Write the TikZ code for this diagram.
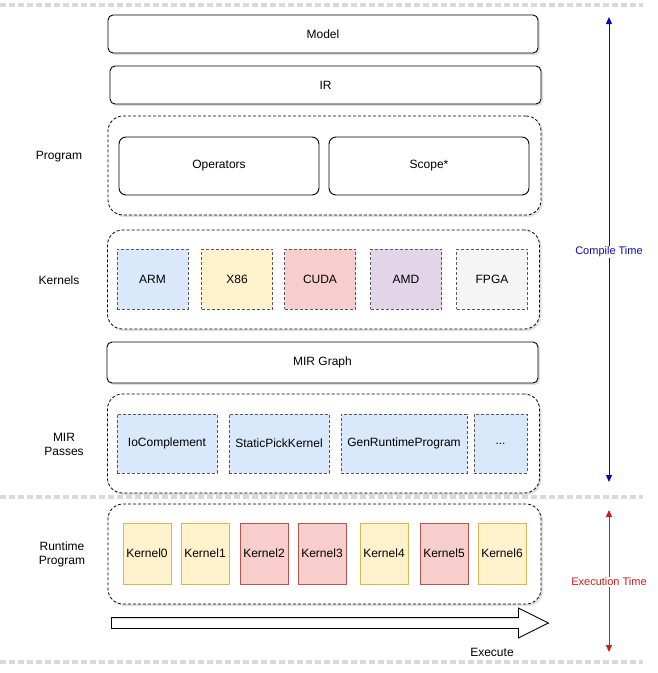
\documentclass[tikz,border=0pt]{standalone}
\usepackage{fontspec}
\setmainfont{Liberation Sans}
\usetikzlibrary{arrows.meta,shapes.arrows,shadows}

\definecolor{armblue}{HTML}{DAE8FC}
\definecolor{x86yellow}{HTML}{FFF2CC}
\definecolor{cudared}{HTML}{F8CECC}
\definecolor{amdpurple}{HTML}{E1D5E7}
\definecolor{fpgagray}{HTML}{F5F5F5}
\definecolor{yellowline}{HTML}{D6B656}
\definecolor{redline}{HTML}{B85450}
\definecolor{compileblue}{RGB}{10,10,180}
\definecolor{execred}{RGB}{200,30,30}

\begin{document}
\begin{tikzpicture}[
  x=1pt, y=-1pt,
  font=\fontsize{12}{14}\selectfont,
  soft/.style={drop shadow={shadow xshift=2pt, shadow yshift=-2pt, opacity=0.25, fill=gray}},
  layer/.style={rectangle, draw, fill=white, rounded corners=5pt, line width=0.9pt,
    minimum width=431pt, minimum height=38pt, align=center, soft},
  group/.style={rectangle, draw, fill=white, rounded corners=15pt, line width=0.8pt,
    dash pattern=on 3pt off 2pt, minimum width=432pt, minimum height=99pt, soft},
  progbox/.style={rectangle, draw, fill=white, rounded corners=7pt, line width=0.9pt,
    minimum width=200pt, minimum height=58pt},
  target/.style={rectangle, draw=black!65, dash pattern=on 3pt off 2pt, line width=0.7pt,
    minimum width=71pt, minimum height=60pt},
  pass/.style={rectangle, draw=black!65, fill=armblue, dash pattern=on 3pt off 2pt,
    line width=0.7pt, minimum width=100pt, minimum height=59pt},
  kern/.style={rectangle, line width=0.8pt, minimum width=48pt, minimum height=61pt,
    inner sep=1pt},
  side/.style={align=center},
  sep/.style={draw=black!15, line width=3.5pt, dash pattern=on 6pt off 3pt},
  span/.style={{Triangle[length=7pt,width=6pt]}-{Triangle[length=7pt,width=6pt]}, line width=1pt},
  spanlbl/.style={fill=white, inner sep=1pt, font=\fontsize{11}{13}\selectfont}
]
\useasboundingbox (0,0) rectangle (658,673);

% separators
\coordinate (s1a) at (0,5);   \coordinate (s1b) at (643,5);
\coordinate (s2a) at (0,497); \coordinate (s2b) at (643,497);
\coordinate (s3a) at (0,662); \coordinate (s3b) at (643,662);
\draw[sep] (s1a) -- (s1b);
\draw[sep] (s2a) -- (s2b);
\draw[sep] (s3a) -- (s3b);

% layers
\node[layer, minimum width=430pt] (model) at (323,34) {Model};
\node[layer] (ir) at (325.5,85) {IR};

\node[group, minimum width=433pt] (prog) at (324.5,165.5) {};
\node[progbox] (ops)   at (219,166) {Operators};
\node[progbox] (scope) at (429,166) {Scope*};

\node[group] (kernels) at (323.5,279.5) {};
\node[target, fill=armblue]   (arm)  at (152.5,279) {ARM};
\node[target, fill=x86yellow] (x86)  at (237,279)   {X86};
\node[target, fill=cudared]   (cuda) at (320,279)   {CUDA};
\node[target, fill=amdpurple] (amd)  at (406,279)   {AMD};
\node[target, fill=fpgagray]  (fpga) at (492,279)   {FPGA};

\node[layer, minimum height=41pt] (mir) at (322.5,362.5) {MIR Graph};

\node[group] (passes) at (323.5,443.5) {};
\node[pass] (ioc)  at (167,443.5) {IoComplement};
\node[pass] (spk)  at (279,443.5) {StaticPickKernel};
\node[pass, minimum width=126pt] (grp)  at (404,443.5) {GenRuntimeProgram};
\node[pass, minimum width=53pt]  (more) at (500.5,443.5) {...};

\node[group, minimum width=433pt, minimum height=100pt] (runtime) at (324.5,554) {};
\node[kern, draw=yellowline, fill=x86yellow] (k0) at (147,553.5) {Kernel0};
\node[kern, draw=yellowline, fill=x86yellow] (k1) at (205,553.5) {Kernel1};
\node[kern, draw=redline, fill=cudared]      (k2) at (264,553.5) {Kernel2};
\node[kern, draw=redline, fill=cudared]      (k3) at (322,553.5) {Kernel3};
\node[kern, draw=yellowline, fill=x86yellow] (k4) at (384,553.5) {Kernel4};
\node[kern, draw=redline, fill=cudared]      (k5) at (444,553.5) {Kernel5};
\node[kern, draw=yellowline, fill=x86yellow] (k6) at (502,553.5) {Kernel6};

% execute arrow
\node[single arrow, draw, line width=0.9pt, fill=white, inner xsep=0pt, inner ysep=5pt,
  minimum height=437pt, minimum width=29pt, single arrow head extend=9.5pt,
  single arrow tip angle=53, anchor=west] (exec) at (111,623) {};
\node (execlbl) at (492,652) {Execute};

% side labels
\node[side] (lblprog)    at (59,157)  {Program};
\node[side] (lblkern)    at (59,280)  {Kernels};
\node[side] (lblpass)    at (64,444)  {MIR\\Passes};
\node[side] (lblruntime) at (62,554)  {Runtime\\Program};

% time spans
\coordinate (ctop) at (609,17);
\coordinate (cbot) at (609,482);
\draw[span, compileblue] (ctop) -- (cbot)
  node[spanlbl, text=compileblue, pos=0.505] (ctime) {Compile Time};
\coordinate (etop) at (609,510);
\coordinate (ebot) at (609,652);
\draw[span, execred] (etop) -- (ebot)
  node[spanlbl, text=execred, pos=0.507] (etime) {Execution Time};
\end{tikzpicture}
\end{document}
